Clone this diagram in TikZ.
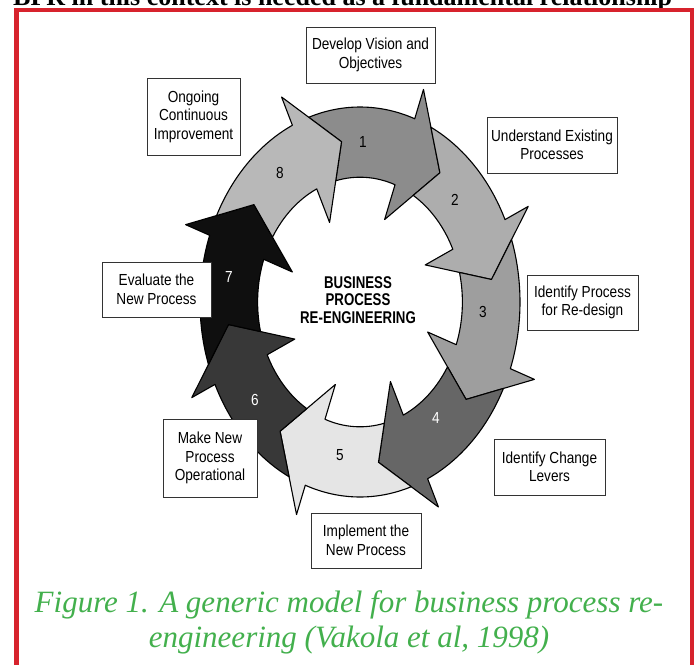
\documentclass[tikz,border=0pt]{standalone}
\usepackage{fontspec}
\setmainfont{Liberation Serif}
\newfontfamily\bprsans{Liberation Sans}[FakeStretch=0.85]
\newfontfamily\bprcore{Liberation Sans}[FakeStretch=0.78]
\usetikzlibrary{shadows}

\definecolor{bprred}{RGB}{215,35,45}
\definecolor{capgreen}{RGB}{67,176,77}
\definecolor{seg1}{gray}{0.55}
\definecolor{seg2}{gray}{0.68}
\definecolor{seg3}{gray}{0.62}
\definecolor{seg4}{gray}{0.40}
\definecolor{seg5}{gray}{0.90}
\definecolor{seg6}{gray}{0.22}
\definecolor{seg7}{gray}{0.06}
\definecolor{seg8}{gray}{0.72}

\tikzset{
  stepbox/.style={draw=black!80, line width=0.9pt, fill=white, align=center, inner sep=0pt,
    font=\bprsans\fontsize{16}{18.5}\selectfont,
    drop shadow={shadow xshift=1.3pt, shadow yshift=-1.3pt, fill=black!60, opacity=1}},
  segnum/.style={font=\bprsans\fontsize{16}{16}\selectfont},
  arrowseg/.style={draw=black, line width=1.1pt, line join=round}
}

\begin{document}
\begin{tikzpicture}[x=1pt, y=1pt]
  \useasboundingbox (0,0) rectangle (698,-664);
  \clip (0,0) rectangle (698,-664);
  \fill[white] (0,0) rectangle (698,-664);

  \node[anchor=base west, inner sep=0pt, font=\bfseries\fontsize{26}{26}\selectfont] (lead) at (13,-5)
    {BPR in this context is needed as a fundamental relationship};
  \draw[bprred, line width=4.5pt] (16.5,-700) |- (692,-10) -- (692,-700);

  \begin{scope}[shift={(360,-302)}, x=160pt, y=195pt]
    \foreach \base/\shade in {70/seg1, 25/seg2, -20/seg3, -65/seg4, -110/seg5, -155/seg6, -200/seg7, -245/seg8}
      \filldraw[arrowseg, fill=\shade] ({\base+38.7}:1) arc[start angle={\base+38.7}, end angle=\base, radius=1]
        -- (\base:1.16) -- ({\base-17}:0.83) -- (\base:0.45) -- (\base:0.64)
        arc[start angle=\base, end angle={\base+33.7}, radius=0.64] -- ({\base+28}:0.83) -- cycle;
  \end{scope}

  \node[segnum] (n1) at (363,-142) {1};
  \node[segnum] (n2) at (455,-200) {2};
  \node[segnum] (n3) at (483,-312) {3};
  \node[segnum, text=white] (n4) at (436,-418) {4};
  \node[segnum] (n5) at (340,-455) {5};
  \node[segnum, text=white] (n6) at (255,-400) {6};
  \node[segnum, text=white] (n7) at (229,-277) {7};
  \node[segnum] (n8) at (280,-173) {8};

  \node[align=center, font=\bprcore\bfseries\fontsize{17}{17.5}\selectfont] (core) at (358,-300)
    {BUSINESS\\PROCESS\\RE-ENGINEERING};

  \node[stepbox, minimum width=129pt, minimum height=56pt] (vision) at (370.5,-55) {Develop Vision and\\Objectives};
  \node[stepbox, minimum width=130pt, minimum height=56pt] (existing) at (552,-145) {Understand Existing\\Processes};
  \node[stepbox, minimum width=111pt, minimum height=55pt] (redesign) at (582.5,-302.5) {Identify Process\\for Re-design};
  \node[stepbox, minimum width=111pt, minimum height=56pt] (levers) at (549.5,-467) {Identify Change\\Levers};
  \node[stepbox, minimum width=110pt, minimum height=55pt] (implement) at (366,-540.5) {Implement the\\New Process};
  \node[stepbox, minimum width=94pt, minimum height=78pt] (operational) at (210,-458) {Make New\\Process\\Operational};
  \node[stepbox, minimum width=109pt, minimum height=55pt] (evaluate) at (156.5,-289.5) {Evaluate the\\New Process};
  \node[stepbox, minimum width=93pt, minimum height=77pt] (ongoing) at (193.5,-116.5) {Ongoing\\Continuous\\Improvement};

  \node[align=center, text=capgreen, font=\itshape\fontsize{31}{35}\selectfont] (caption) at (349,-622)
    {Figure 1. A generic model for business process re-\\engineering (Vakola et al, 1998)};
\end{tikzpicture}
\end{document}
